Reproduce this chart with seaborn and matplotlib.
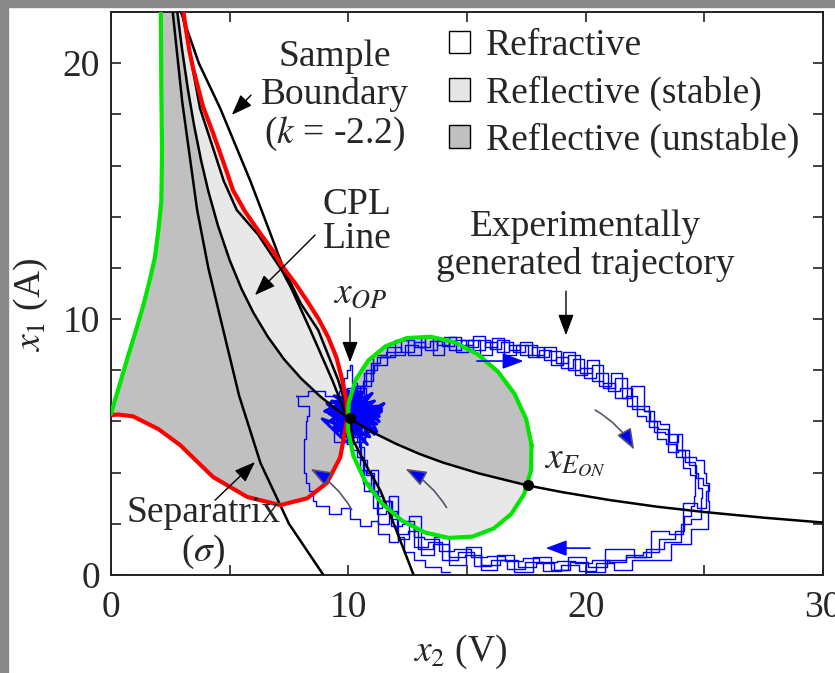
import numpy as np
import pandas as pd
import seaborn as sns
import matplotlib.pyplot as plt
from matplotlib.patches import Patch, Rectangle

# ---- curves (x2 in V, x1 in A) ----
green_l_x2 = [0.0, 0.35, 0.7, 1.0, 1.35, 1.6, 1.85, 2.0, 2.12, 2.15, 2.12, 2.1]
green_l_x1 = [6.3, 7.4, 8.5, 9.4, 10.5, 11.4, 12.4, 13.5, 14.6, 16.5, 19.0, 22.0]

red_x2 = [3.05, 3.3, 3.46, 3.88, 4.3, 4.75, 5.14, 5.65, 6.28, 6.8, 7.25, 7.8, 8.27, 8.75, 9.15, 9.5, 9.75,
          9.92, 9.97, 9.87, 9.66, 9.1, 8.27, 7.13, 5.74, 4.3, 2.91, 2.0, 0.93, 0.3, 0.0]
red_x1 = [22.0, 20.5, 19.8, 18.3, 17.27, 16.1, 15.04, 14.2, 13.36, 12.7, 12.03, 11.35, 10.7, 10.0, 9.3, 8.5, 7.6,
          6.8, 6.2, 5.66, 4.6, 3.6, 3.0, 2.73, 3.05, 3.83, 5.08, 5.7, 6.2, 6.27, 6.25]

cpl_x2 = [2.80, 3.00, 3.25, 3.50, 3.80, 4.10, 4.50, 5.00, 5.50, 6.00, 6.60, 7.30, 8.00, 8.80, 9.50,
          10.05, 11.0, 12.0, 13.0, 14.0, 15.5, 17.55, 19.0, 21.0, 23.0, 25.0, 27.5, 30.0]
cpl_x1 = [21.96, 20.5, 18.92, 17.57, 16.18, 15.0, 13.67, 12.3, 11.18, 10.25, 9.32, 8.42, 7.69, 6.99, 6.47,
          6.12, 5.59, 5.13, 4.73, 4.39, 3.97, 3.50, 3.24, 2.93, 2.67, 2.46, 2.24, 2.05]

lineA_x2 = [2.6, 3.0, 3.46, 3.63, 4.1, 4.73, 5.4, 6.3, 7.5, 8.95]
lineA_x1 = [22.0, 18.5, 15.4, 14.26, 12.0, 9.57, 7.0, 4.37, 2.0, 0.0]

lineD_x2 = [3.0, 3.75, 4.75, 5.3, 6.2, 7.2, 7.6, 8.4, 9.33, 9.8, 10.05]
lineD_x1 = [22.0, 18.24, 15.4, 14.26, 13.3, 11.9, 11.2, 9.57, 7.6, 6.5, 6.15]

sb_x2 = [2.95, 3.7, 4.6, 5.87, 6.34, 6.66, 7.26, 8.0, 8.73, 9.58, 10.05, 10.2, 10.8, 11.35, 12.0, 12.75]
sb_x1 = [22.0, 20.0, 18.24, 15.4, 14.26, 13.48, 12.0, 10.6, 9.57, 7.6, 6.15, 5.27, 4.2, 3.3, 1.8, 0.0]

ell_x2 = [17.72, 17.49, 17.00, 16.31, 15.45, 14.47, 13.46, 12.47, 11.57, 10.84, 10.30, 10.01, 9.98,
          10.21, 10.70, 11.39, 12.25, 13.23, 14.24, 15.23, 16.13, 16.86, 17.40, 17.69, 17.72]
ell_x1 = [5.07, 6.10, 7.08, 7.94, 8.63, 9.10, 9.31, 9.26, 8.94, 8.38, 7.61, 6.70, 5.69,
          4.66, 3.68, 2.82, 2.13, 1.66, 1.45, 1.50, 1.82, 2.38, 3.15, 4.06, 5.07]

# experimentally generated trajectory, read as pieces
cl_x2 = [10.0, 9.3, 11.2, 9.6, 11.0, 9.2, 10.8, 9.5, 11.3, 9.8, 10.6, 9.3, 11.1, 9.7, 10.9, 9.4, 11.4, 10.1,
         9.5, 11.0, 9.8, 10.7, 9.3, 11.2, 10.3, 9.6, 11.0, 9.9, 10.5, 9.4, 11.3, 10.0, 9.7, 10.8, 9.5, 11.1,
         10.2, 9.8, 10.9, 9.6, 10.4, 11.2, 9.9, 10.6, 10.1]
cl_x1 = [6.2, 6.6, 5.9, 6.9, 6.4, 6.0, 7.0, 5.6, 6.2, 7.2, 5.5, 6.3, 6.8, 5.8, 6.0, 7.0, 6.5, 5.4,
         6.1, 7.1, 5.7, 6.6, 6.8, 5.6, 7.3, 6.0, 5.9, 6.5, 6.9, 5.8, 6.4, 7.0, 5.5, 6.2, 6.7, 6.1,
         5.6, 6.9, 6.5, 6.2, 5.8, 6.6, 6.4, 6.0, 6.2]
cl2_x2 = [10.1, 9.0, 10.6, 9.4, 11.5, 9.9, 8.9, 10.9, 9.7, 11.3, 10.2, 9.1, 10.8, 9.6, 11.4, 10.4, 9.2, 10.0,
          11.1, 9.8, 10.7, 9.5, 10.3]
cl2_x1 = [6.0, 6.4, 7.1, 5.7, 6.7, 5.2, 6.1, 5.4, 7.4, 6.0, 6.9, 6.7, 5.1, 6.5, 6.4, 5.6, 6.3, 7.2,
          5.5, 6.6, 6.3, 5.9, 6.1]
up_x2 = [10.0, 9.6, 10.3, 9.8, 10.5, 10.2]
up_x1 = [6.8, 7.7, 8.0, 8.2, 7.5, 6.6]
loop1_x2 = [10.3, 10.9, 11.2, 12.0, 12.4, 13.1, 13.4, 14.1, 14.4, 15.1, 15.4, 16.1, 16.4, 17.1, 17.4, 18.1,
            18.4, 19.1, 19.4, 20.1, 20.4, 21.1, 21.4, 22.1, 22.3, 23.0, 23.1, 23.8, 24.0, 24.7, 24.6, 25.3,
            25.0, 25.4, 24.9, 24.0, 23.2, 22.3, 21.6, 20.8, 20.1, 19.3, 18.6, 17.8, 17.1, 16.3, 15.7, 14.9,
            14.3, 13.6, 13.1, 12.4, 12.1, 11.5, 11.3, 10.8, 10.7, 10.3, 10.3]
loop1_x1 = [7.2, 7.6, 8.6, 8.7, 9.2, 8.9, 9.3, 9.0, 9.3, 9.0, 9.35, 8.9, 9.2, 8.8, 9.1, 8.6,
            8.9, 8.3, 8.6, 7.9, 8.2, 7.3, 7.7, 6.6, 6.6, 5.8, 5.7, 4.8, 4.9, 4.3, 3.8, 3.5,
            2.9, 2.5, 1.8, 1.2, 0.6, 0.6, 0.2, 0.45, 0.15, 0.4, 0.15, 0.5, 0.25, 0.6, 0.35, 0.9,
            0.6, 1.3, 1.1, 2.0, 1.9, 2.9, 2.6, 3.9, 4.1, 5.5, 5.8]
loop2_x2 = [10.6, 10.7, 11.5, 11.8, 12.6, 12.9, 13.6, 13.9, 14.6, 14.9, 15.6, 15.9, 16.6, 16.9, 17.6, 17.9,
            18.6, 18.9, 19.6, 19.9, 20.6, 20.9, 21.6, 21.8, 22.5, 22.6, 23.4, 23.4, 24.2, 24.0, 24.8, 24.4,
            24.7, 24.2, 24.1, 23.4, 22.8, 22.0, 21.4, 20.6, 19.9, 19.2, 18.4, 17.7, 17.0, 16.2, 15.5, 14.8,
            14.1, 13.5, 12.9, 12.6, 11.9, 11.8, 11.1, 11.1, 10.5, 10.6, 10.1]
loop2_x1 = [6.8, 7.9, 8.2, 8.9, 8.7, 9.1, 8.8, 9.2, 8.8, 9.2, 8.8, 9.1, 8.7, 9.0, 8.6, 8.9,
            8.4, 8.5, 8.0, 8.1, 7.6, 7.5, 6.9, 7.0, 6.2, 6.0, 5.3, 5.1, 4.6, 4.2, 3.9, 3.1,
            2.7, 2.3, 1.7, 1.4, 0.9, 0.8, 0.5, 0.6, 0.45, 0.55, 0.5, 0.65, 0.55, 0.75, 0.7, 1.0,
            0.95, 1.4, 1.5, 2.1, 2.2, 2.9, 3.1, 4.0, 4.5, 5.2, 6.2]
loop3_x2 = [10.9, 11.0, 11.7, 12.2, 12.8, 13.3, 13.8, 14.3, 14.8, 15.3, 15.8, 16.3, 16.8, 17.3, 17.8, 18.3,
            18.8, 19.3, 19.8, 20.3, 20.8, 21.3, 21.8, 22.0, 22.9, 22.5, 23.8, 23.2, 24.6, 23.5, 25.8, 24.2,
            25.9, 24.5, 25.6, 23.8, 24.4, 22.6, 22.9, 21.2, 20.4, 19.6, 18.9, 18.2, 17.4, 16.6, 15.9, 15.3,
            14.6, 13.9, 13.3, 12.8, 12.3, 11.9, 11.5, 11.0, 10.9, 10.4, 10.5]
loop3_x1 = [7.4, 8.3, 8.5, 9.2, 8.6, 9.3, 8.6, 9.3, 8.7, 9.2, 8.6, 9.25, 8.6, 9.0, 8.5, 8.8,
            8.2, 8.7, 7.8, 8.4, 7.4, 7.9, 6.9, 7.4, 6.4, 6.0, 5.9, 5.2, 5.5, 4.6, 4.5, 4.0,
            3.6, 3.3, 2.6, 2.8, 1.6, 1.7, 0.7, 1.0, 0.1, 0.7, 0.2, 0.7, 0.1, 0.8, 0.2, 1.1,
            0.4, 1.5, 0.8, 2.3, 1.4, 3.1, 2.0, 4.1, 3.3, 5.0, 5.9]
loop4_x2 = [10.2, 10.5, 11.0, 11.4, 12.1, 12.7, 13.2, 13.7, 14.2, 14.7, 15.2, 15.7, 16.2, 16.7, 17.2, 17.7,
            18.2, 18.7, 19.2, 19.7, 20.2, 20.7, 21.2, 21.7, 22.2, 22.7, 23.1, 23.6, 24.1, 24.3, 24.9, 24.6,
            25.2, 24.5, 24.4, 23.6, 23.0, 22.1, 21.3, 20.5, 19.7, 19.0, 18.3, 17.5, 16.8, 16.0, 15.2, 14.6,
            13.9, 13.2, 12.7, 12.3, 11.8, 11.4, 11.0, 10.7, 10.5, 10.2, 10.0]
loop4_x1 = [6.5, 7.4, 8.0, 8.5, 8.6, 9.0, 8.9, 9.15, 8.95, 9.2, 8.9, 9.2, 8.85, 9.1, 8.7, 9.0,
            8.5, 8.75, 8.1, 8.45, 7.7, 7.9, 7.2, 7.3, 6.5, 6.4, 5.6, 5.5, 4.9, 4.4, 4.0, 3.4,
            3.0, 2.2, 2.0, 1.3, 1.0, 0.7, 0.6, 0.3, 0.5, 0.2, 0.45, 0.3, 0.6, 0.4, 0.8, 0.7,
            1.2, 1.0, 1.7, 1.6, 2.5, 2.4, 3.3, 3.6, 4.6, 4.9, 5.8]
left_x2 = [10.0, 9.4, 8.6, 8.0, 7.6, 8.2, 8.5, 8.0, 8.4, 8.0, 8.3, 8.0, 8.3, 8.1, 8.6, 8.4, 8.9,
           9.5, 9.9, 10.2, 10.8, 11.1, 11.4, 12.0, 12.2, 12.5, 13.0, 13.5, 14.3]
left_x1 = [6.3, 7.0, 7.2, 7.0, 7.0, 6.6, 6.2, 6.0, 5.6, 5.3, 4.9, 4.5, 4.0, 3.6, 3.3, 2.9, 2.7,
           2.4, 2.6, 2.2, 1.9, 2.1, 1.6, 1.3, 1.5, 0.9, 0.6, 0.3, 0.1]

traj_x2 = up_x2 + loop1_x2 + loop2_x2 + loop3_x2 + loop4_x2 + left_x2
traj_x1 = up_x1 + loop1_x1 + loop2_x1 + loop3_x1 + loop4_x1 + left_x1

op_pt = (10.05, 6.15)
eon_pt = (17.55, 3.5)

legend_labels = ['Refractive', 'Reflective (stable)', 'Reflective (unstable)']

DARK = '#c0c0c0'
LIGHT = '#e8e8e8'
GREEN = '#00e600'
FS = 27

sns.set_theme(style='ticks')
plt.rcParams['font.family'] = ['Liberation Serif', 'DejaVu Serif']
plt.rcParams['mathtext.fontset'] = 'stix'

fig = plt.figure(figsize=(8.35, 6.73), dpi=100)
fig.patches.append(Rectangle((0, 0), 8 / 835, 1, transform=fig.transFigure, color='#898989', zorder=5))
fig.patches.append(Rectangle((0, 1 - 7 / 673), 1, 7 / 673, transform=fig.transFigure, color='#898989', zorder=5))
ax = fig.add_axes([111 / 835, 1 - 575 / 673, 712 / 835, 563 / 673])

# shaded regions
left_patch = ax.fill(green_l_x2 + red_x2, green_l_x1 + red_x1, color=DARK, lw=0, zorder=1)[0]
lt = ax.fill_between(cpl_x2, cpl_x1, 22, color=LIGHT, lw=0, zorder=1.1)
lt.set_clip_path(left_patch)
ell_patch = ax.fill(ell_x2, ell_x1, color=LIGHT, lw=0, zorder=1)[0]
dk = ax.fill_between(cpl_x2, cpl_x1, 22, color=DARK, lw=0, zorder=1.1)
dk.set_clip_path(ell_patch)


def curve(x, y, **kw):
    sns.lineplot(x=x, y=y, sort=False, estimator=None, ax=ax, legend=False, **kw)


curve(traj_x2, traj_x1, color='#0000ff', lw=1.0, drawstyle='steps-mid', zorder=2)
curve(cl_x2, cl_x1, color='#0000ff', lw=2.2, zorder=2)
curve(cl2_x2, cl2_x1, color='#0000ff', lw=2.2, zorder=2)
curve(cl2_x2, cl2_x1, color='#0000ff', lw=1.0, drawstyle='steps-mid', zorder=2)
curve(cl_x2, cl_x1, color='#0000ff', lw=1.0, drawstyle='steps-mid', zorder=2)
for bx, by in [(lineA_x2, lineA_x1), (cpl_x2, cpl_x1), (lineD_x2, lineD_x1), (sb_x2, sb_x1)]:
    curve(bx, by, color='black', lw=1.8, zorder=3)
curve(red_x2, red_x1, color='#ff0000', lw=3, zorder=4)
curve(green_l_x2, green_l_x1, color=GREEN, lw=3, zorder=4)
curve(ell_x2, ell_x1, color=GREEN, lw=3, zorder=4)
ax.plot(*op_pt, 'o', color='black', ms=7, zorder=5)
ax.plot(*eon_pt, 'o', color='black', ms=7, zorder=5)

# black annotation arrows
blk = dict(arrowstyle='-|>,head_length=0.8,head_width=0.3', color='black', lw=1, mutation_scale=16)
for head, tail in [((5.01, 17.9), (5.98, 18.83)), ((5.98, 10.86), (8.68, 13.36)),
                   ((10.07, 8.2), (10.07, 10.16)), ((19.17, 9.26), (19.17, 11.2)),
                   ((6.15, 4.49), (4.3, 2.85))]:
    ax.annotate('', xy=head, xytext=tail, arrowprops=blk, zorder=6)

# direction arrows on the trajectory
for head, tail, rad, ec in [((8.3, 4.2), (10.2, 2.46), 0.15, '#555566'),
                            ((12.3, 4.2), (14.2, 2.54), 0.15, '#555566'),
                            ((22.1, 4.8), (20.3, 6.5), -0.15, '#555566'),
                            ((17.5, 8.36), (15.3, 8.36), 0.0, '#0000ff'),
                            ((18.2, 1.05), (20.3, 1.05), 0.0, '#0000ff')]:
    ax.annotate('', xy=head, xytext=tail, zorder=6,
                arrowprops=dict(arrowstyle='-|>,head_length=0.8,head_width=0.3', fc='#0000ff', ec=ec,
                                lw=1.2, mutation_scale=16, connectionstyle=f'arc3,rad={rad}'))

ax.text(9.44, 18.71, 'Sample\nBoundary\n($k$ = -2.2)', fontsize=FS, ha='center', va='center',
        linespacing=1.12, zorder=7)
ax.text(10.37, 13.8, 'CPL\nLine', fontsize=FS, ha='center', va='center', linespacing=1.0, zorder=7)
ax.text(10.5, 11.0, r'$x_{OP}$', fontsize=FS, ha='center', va='center', zorder=7)
ax.text(19.97, 12.87, 'Experimentally\ngenerated trajectory', fontsize=FS, ha='center', va='center',
        linespacing=1.1, zorder=7)
ax.text(19.55, 4.41, r'$x_{E_{ON}}$', fontsize=FS, ha='center', va='center', zorder=7)
ax.text(3.88, 1.64, 'Separatrix\n' + r'($\sigma$)', fontsize=FS, ha='center', va='center',
        linespacing=1.08, zorder=7)

handles = [Patch(facecolor=c, edgecolor='black', lw=1) for c in ['white', '#e6e6e6', DARK]]
ax.legend(handles, legend_labels, loc='upper left', bbox_to_anchor=(0.475, 0.970), frameon=False,
          fontsize=FS, handlelength=0.55, handleheight=0.55, handletextpad=0.42, labelspacing=0.32,
          borderpad=0, borderaxespad=0)

ax.set_xlim(0, 30)
ax.set_ylim(0, 22)
ax.set_xticks([0, 10, 20, 30])
ax.set_xticks([5, 15, 25], minor=True)
ax.set_yticks([0, 10, 20])
ax.set_yticks([2, 4, 6, 8, 12, 14, 16, 18], minor=True)
ax.tick_params(which='both', direction='in', top=True, right=True, length=7, width=1.2, color='#222222')
ax.tick_params(axis='x', which='major', labelsize=FS, pad=11)
ax.tick_params(axis='y', which='major', labelsize=FS, pad=8)
for s in ax.spines.values():
    s.set_linewidth(1.4)
    s.set_color('#222222')

ax.set_xlabel(r'$x_{\mathit{2}}$ (V)', fontsize=FS)
ax.set_ylabel(r'$x_{\mathit{1}}$ (A)', fontsize=FS)
ax.xaxis.set_label_coords(0.49, -0.103)
ax.yaxis.set_label_coords(-0.086, 0.48)

fig.savefig('out.png', dpi=100)
